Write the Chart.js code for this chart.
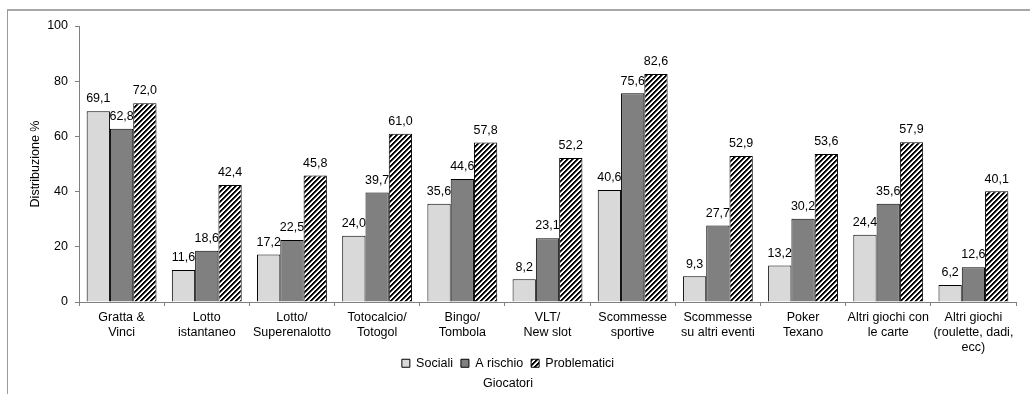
<!DOCTYPE html>
<html lang="it">
<head>
<meta charset="UTF-8">
<title>Distribuzione giocatori</title>
<script src="https://cdn.jsdelivr.net/npm/chart.js"></script>
<style>
  html, body { margin: 0; padding: 0; background: #fff; }
  #wrap { position: relative; width: 1030px; height: 394px; overflow: hidden; }
  #frame {
    position: absolute; left: 7px; top: 9px; width: 1100px; height: 500px;
    border-left: 1px solid #9a9a9a; border-top: 2px solid #a8a8a8;
  }
  canvas { position: absolute; left: 0; top: 0; }
</style>
</head>
<body>
<div id="wrap">
  <div id="frame"></div>
  <canvas id="chart" width="1030" height="394"></canvas>
</div>
<script>
  const categories = [
    ["Gratta &", "Vinci"],
    ["Lotto", "istantaneo"],
    ["Lotto/", "Superenalotto"],
    ["Totocalcio/", "Totogol"],
    ["Bingo/", "Tombola"],
    ["VLT/", "New slot"],
    ["Scommesse", "sportive"],
    ["Scommesse", "su altri eventi"],
    ["Poker", "Texano"],
    ["Altri giochi con", "le carte"],
    ["Altri giochi", "(roulette, dadi,", "ecc)"]
  ];
  const sociali = [69.1, 11.6, 17.2, 24.0, 35.6, 8.2, 40.6, 9.3, 13.2, 24.4, 6.2];
  const aRischio = [62.8, 18.6, 22.5, 39.7, 44.6, 23.1, 75.6, 27.7, 30.2, 35.6, 12.6];
  const problematici = [72.0, 42.4, 45.8, 61.0, 57.8, 52.2, 82.6, 52.9, 53.6, 57.9, 40.1];
  const yTicks = [0, 20, 40, 60, 80, 100];

  const FONT = "'Liberation Sans', Arial, sans-serif";
  const FS = 12.5;

  // diagonal black/white stripes for "Problematici"
  function makeHatch() {
    const size = 5;
    const c = document.createElement("canvas");
    c.width = size; c.height = size;
    const g = c.getContext("2d");
    const img = g.createImageData(size, size);
    for (let y = 0; y < size; y++) {
      for (let x = 0; x < size; x++) {
        const k = (x + y) % size;
        const v = k < 2 ? 0 : (k === 2 ? 110 : 255);
        const i = (y * size + x) * 4;
        img.data[i] = v; img.data[i + 1] = v; img.data[i + 2] = v; img.data[i + 3] = 255;
      }
    }
    g.putImageData(img, 0, 0);
    return g.createPattern(c, "repeat");
  }

  const valueLabels = {
    id: "valueLabels",
    afterDatasetsDraw(chart) {
      const ctx = chart.ctx;
      ctx.save();
      ctx.font = FS + "px " + FONT;
      ctx.fillStyle = "#000";
      ctx.textAlign = "center";
      ctx.textBaseline = "bottom";
      chart.data.datasets.forEach((ds, di) => {
        chart.getDatasetMeta(di).data.forEach((bar, i) => {
          ctx.fillText(ds.data[i].toFixed(1).replace(".", ","), bar.x, bar.y - 6);
        });
      });
      ctx.restore();
    }
  };

  // pull the legend row up a bit, closer to the category labels
  const legendNudge = {
    id: "legendNudge",
    afterLayout(chart) {
      if (chart.legend) {
        chart.legend.top -= 7;
        chart.legend.bottom -= 7;
      }
    }
  };

  Chart.defaults.font.family = FONT;
  Chart.defaults.font.size = FS;
  Chart.defaults.color = "#000";

  new Chart(document.getElementById("chart"), {
    type: "bar",
    data: {
      labels: categories,
      datasets: [
        { label: "Sociali", data: sociali, backgroundColor: "#d9d9d9", borderColor: "#000", borderWidth: 1 },
        { label: "A rischio", data: aRischio, backgroundColor: "#808080", borderColor: "#000", borderWidth: 1 },
        { label: "Problematici", data: problematici, backgroundColor: makeHatch(), borderColor: "#000", borderWidth: 1 }
      ]
    },
    options: {
      responsive: false,
      animation: false,
      layout: { padding: { left: 0, right: 14, top: 26, bottom: 1 } },
      datasets: { bar: { categoryPercentage: 0.82, barPercentage: 1 } },
      scales: {
        x: {
          afterFit: (s) => { s.height = 54; },
          grid: { offset: true, drawOnChartArea: false, tickLength: 4, color: "#808080" },
          border: { color: "#808080" },
          ticks: { padding: 4, maxRotation: 0, autoSkip: false, font: { size: FS, lineHeight: 1.2 } }
        },
        y: {
          min: 0,
          max: 100,
          afterBuildTicks: (s) => { s.ticks = yTicks.map((v) => ({ value: v })); },
          afterFit: (s) => { s.width = 79; },
          grid: { drawOnChartArea: false, tickLength: 4, color: "#808080" },
          border: { color: "#808080" },
          ticks: { padding: 7 },
          title: { display: true, text: "Distribuzione %", padding: { top: 28, bottom: 0 }, font: { size: FS } }
        }
      },
      plugins: {
        legend: {
          position: "bottom",
          maxHeight: 20,
          labels: { boxWidth: 8, boxHeight: 8, padding: 8, font: { size: FS } }
        },
        title: {
          display: true,
          position: "bottom",
          text: "Giocatori",
          font: { size: FS, weight: "normal" },
          padding: { top: 0, bottom: 2 }
        },
        tooltip: { enabled: false }
      }
    },
    plugins: [valueLabels, legendNudge]
  });
</script>
</body>
</html>
